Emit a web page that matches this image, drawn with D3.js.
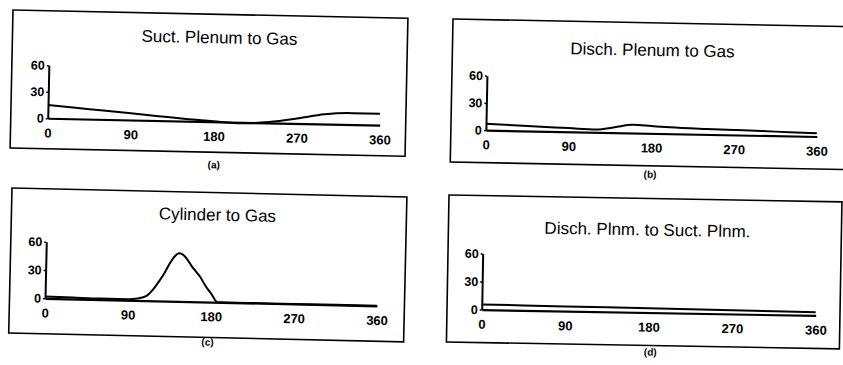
<!DOCTYPE html>
<html><head><meta charset="utf-8">
<script src="https://cdn.jsdelivr.net/npm/d3@7"></script>
<style>body{margin:0;background:#fff} svg{display:block}</style>
</head><body><svg id="c" width="843" height="365"></svg>
<script>
// ---- data ----
const titles = ["Suct. Plenum to Gas", "Disch. Plenum to Gas", "Cylinder to Gas", "Disch. Plnm. to Suct. Plnm."];
const panelTags = ["(a)", "(b)", "(c)", "(d)"];
const xTickValues = [0, 90, 180, 270, 360];
const yTickValues = [0, 30, 60];

const suctAngle = [0, 30, 60, 90, 120, 150, 180, 210, 240, 270, 300, 330, 360];
const suctValue = [15, 12.5, 10, 7.5, 5, 2.5, 0.5, -1, 1, 5.5, 11, 13, 13];

const dischAngle = [0, 30, 60, 90, 120, 140, 160, 180, 200, 240, 270, 300, 330, 360];
const dischValue = [7, 6, 5, 4, 3, 6, 9, 8, 7, 6, 5.5, 5, 4, 3.5];

const cylAngle = [0, 30, 60, 90, 100, 110, 117, 122, 128, 135, 140, 144, 148, 153, 158, 163, 168, 173, 180, 187, 220, 270, 360];
const cylValue = [2, 1.5, 1, 1, 2, 5, 12, 19, 28, 41, 48, 51, 50, 45, 38, 32, 26, 18, 9, 0, 0, 0, 0];

const dsAngle = [0, 90, 180, 270, 360];
const dsValue = [5.5, 5, 4.5, 4, 3.5];

const seriesAngles = [suctAngle, dischAngle, cylAngle, dsAngle];
const seriesValues = [suctValue, dischValue, cylValue, dsValue];

// ---- layout (positions only) ----
const layout = [
  {ox: 13, oy: 10, rot: 1.2, w: 395, h: 138, ax: 37, ay: 107.5, xLen: 332, yLen: 53, tx: 207, ty: 29, lx: 204, ly: 154},
  {ox: 453, oy: 19, rot: 1.1, w: 395, h: 143, ax: 35, ay: 110.5, xLen: 331, yLen: 54.5, tx: 200, ty: 33, lx: 200, ly: 155},
  {ox: 12, oy: 188, rot: 1.3, w: 395, h: 145, ax: 35.5, ay: 109.5, xLen: 332, yLen: 56.5, tx: 206, ty: 28, lx: 199, ly: 153},
  {ox: 449, oy: 195, rot: 1.0, w: 393, h: 147, ax: 34.7, ay: 114, xLen: 334, yLen: 56, tx: 199, ty: 37, lx: 204, ly: 157}
];

const svg = d3.select("#c");
const font = "Arial, 'Liberation Sans', Helvetica, sans-serif";

layout.forEach((L, i) => {
  const g = svg.append("g").attr("transform", `translate(${L.ox},${L.oy}) rotate(${L.rot})`);
  g.append("rect").attr("x", 0).attr("y", 0).attr("width", L.w).attr("height", L.h)
    .attr("fill", "none").attr("stroke", "#000").attr("stroke-width", 1.6);

  g.append("text").attr("x", L.tx).attr("y", L.ty).attr("text-anchor", "middle")
    .style("font-family", font).style("font-size", "17px").attr("fill", "#000").text(titles[i]);

  const x = d3.scaleLinear().domain([0, 360]).range([L.ax, L.ax + L.xLen]);
  const y = d3.scaleLinear().domain([0, 60]).range([L.ay, L.ay - L.yLen]);

  const xa = g.append("g").attr("transform", `translate(0,${L.ay})`)
    .call(d3.axisBottom(x).tickValues(xTickValues).tickSize(0).tickPadding(10).tickFormat(d3.format("d")));
  xa.select(".domain").attr("stroke", "#000").attr("stroke-width", 2.2);
  xa.selectAll("text").style("font-family", font).style("font-size", "13px").style("font-weight", "bold").attr("fill", "#000");

  const ya = g.append("g").attr("transform", `translate(${L.ax},0)`)
    .call(d3.axisLeft(y).tickValues(yTickValues).tickSizeInner(2).tickSizeOuter(0).tickPadding(2).tickFormat(d3.format("d")));
  ya.select(".domain").attr("stroke", "#000").attr("stroke-width", 2);
  ya.selectAll("line").attr("stroke", "#000").attr("stroke-width", 1.5);
  ya.selectAll("text").style("font-family", font).style("font-size", "12.5px").style("font-weight", "bold").attr("fill", "#000");

  const pts = seriesAngles[i].map((a, k) => [a, seriesValues[i][k]]);
  const line = d3.line().x(d => x(d[0])).y(d => y(d[1])).curve(d3.curveMonotoneX);
  g.append("path").datum(pts).attr("d", line).attr("fill", "none")
    .attr("stroke", "#000").attr("stroke-width", 2).attr("stroke-linejoin", "round");

  g.append("text").attr("x", L.lx).attr("y", L.ly).attr("text-anchor", "middle")
    .style("font-family", font).style("font-size", "10px").style("font-weight", "bold").attr("fill", "#000").text(panelTags[i]);
});
</script>
</body></html>
